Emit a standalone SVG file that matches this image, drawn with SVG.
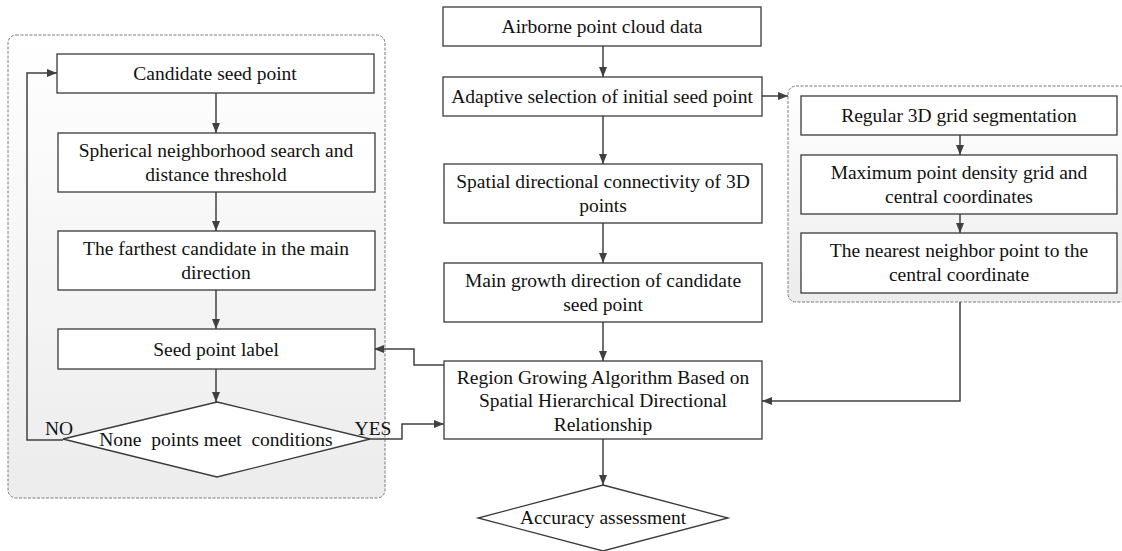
<svg xmlns="http://www.w3.org/2000/svg" width="1122" height="551" viewBox="0 0 1122 551">
<defs>
<linearGradient id="grp" x1="0" y1="0" x2="0" y2="1">
<stop offset="0" stop-color="#ffffff"/>
<stop offset="1" stop-color="#ececec"/>
</linearGradient>
<marker id="ah" markerUnits="userSpaceOnUse" markerWidth="11" markerHeight="9" refX="10" refY="4" orient="auto">
<path d="M0,0 L10,4 L0,8 z" fill="#404040"/>
</marker>
<style>
.grp{fill:url(#grp);stroke:#7a7a7a;stroke-width:1;stroke-dasharray:3,1.5}
.box{fill:#ffffff;stroke:#3a3a3a;stroke-width:1.3}
.t{font-family:"Liberation Serif","Times New Roman",serif;font-size:19.5px;fill:#111;text-anchor:middle}
.c{fill:none;stroke:#404040;stroke-width:1.5;marker-end:url(#ah)}
.l{fill:none;stroke:#404040;stroke-width:1.5}
</style>
</defs>
<rect width="1122" height="551" fill="#ffffff"/>

<g id="group-left"><rect class="grp" x="8" y="35" width="377" height="463" rx="8"/></g>
<g id="group-right"><rect class="grp" x="788" y="86" width="340" height="216" rx="8"/></g>

<g id="connectors">
<path class="c" d="M603,46 V77"/>
<path class="c" d="M603,116 V164"/>
<path class="c" d="M603,223 V263"/>
<path class="c" d="M603,322 V361"/>
<path class="c" d="M603,439 V485"/>
<path class="c" d="M762,96 H788"/>
<path class="c" d="M960,135 V155"/>
<path class="c" d="M960,214 V233"/>
<path class="c" d="M960,302 V401 H762"/>
<path class="c" d="M216,93 V133"/>
<path class="c" d="M216,192 V231"/>
<path class="c" d="M216,290 V329"/>
<path class="c" d="M216,369 V402"/>
<path class="c" d="M63,440 H27 V73 H57"/>
<path class="c" d="M370,439 H402 V424 H444"/>
<path class="c" d="M444,365 H414 V349 H374"/>
</g>

<g id="n-airborne"><rect class="box" x="443" y="7" width="318" height="39"/><text class="t" x="602" y="33">Airborne point cloud data</text></g>
<g id="n-adaptive"><rect class="box" x="443" y="77" width="319" height="39"/><text class="t" x="602" y="103">Adaptive selection of initial seed point</text></g>
<g id="n-spatial"><rect class="box" x="444" y="164" width="318" height="59"/><text class="t" x="603" y="188">Spatial directional connectivity of 3D</text><text class="t" x="603" y="212">points</text></g>
<g id="n-main"><rect class="box" x="444" y="263" width="318" height="59"/><text class="t" x="603" y="287">Main growth direction of candidate</text><text class="t" x="603" y="311">seed point</text></g>
<g id="n-region"><rect class="box" x="444" y="361" width="318" height="78"/><text class="t" x="603" y="384">Region Growing Algorithm Based on</text><text class="t" x="603" y="407">Spatial Hierarchical Directional</text><text class="t" x="603" y="431">Relationship</text></g>
<g id="n-accuracy"><polygon class="box" points="603,485 728,518 603,551 478,518"/><text class="t" x="603" y="524">Accuracy assessment</text></g>

<g id="n-candidate"><rect class="box" x="57" y="54" width="317" height="39"/><text class="t" x="215" y="80">Candidate seed point</text></g>
<g id="n-spherical"><rect class="box" x="58" y="133" width="317" height="59"/><text class="t" x="216" y="157">Spherical neighborhood search and</text><text class="t" x="216" y="181">distance threshold</text></g>
<g id="n-farthest"><rect class="box" x="58" y="231" width="317" height="59"/><text class="t" x="216" y="255">The farthest candidate in the main</text><text class="t" x="216" y="279">direction</text></g>
<g id="n-label"><rect class="box" x="58" y="329" width="317" height="40"/><text class="t" x="216" y="356">Seed point label</text></g>
<g id="n-none"><polygon class="box" points="217,402 370,439 217,477 63,439"/><text class="t" x="216" y="446" style="white-space:pre">None  points meet  conditions</text></g>
<g id="lbl-no"><text class="t" x="59" y="435">NO</text></g>
<g id="lbl-yes"><text class="t" x="373" y="435">YES</text></g>

<g id="n-regular"><rect class="box" x="801" y="96" width="316" height="39"/><text class="t" x="959" y="122">Regular 3D grid segmentation</text></g>
<g id="n-maxdens"><rect class="box" x="801" y="155" width="316" height="59"/><text class="t" x="959" y="179">Maximum point density grid and</text><text class="t" x="959" y="203">central coordinates</text></g>
<g id="n-nearest"><rect class="box" x="801" y="233" width="316" height="60"/><text class="t" x="959" y="257">The nearest neighbor point to the</text><text class="t" x="959" y="281">central coordinate</text></g>
</svg>
